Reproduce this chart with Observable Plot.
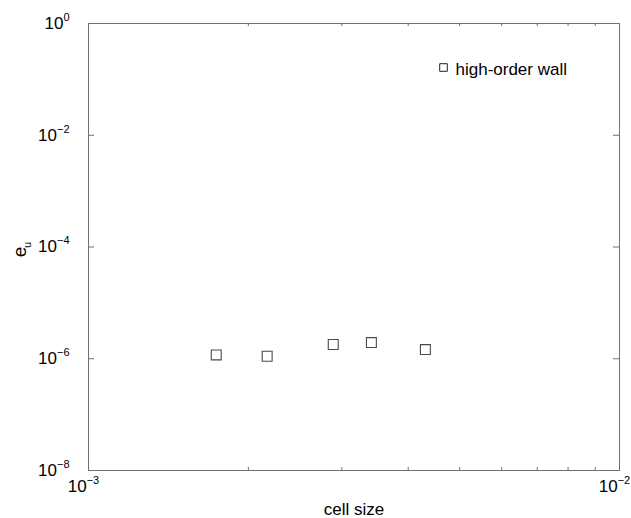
<!DOCTYPE html>
<html><head><meta charset="utf-8">
<script src="https://cdn.jsdelivr.net/npm/d3@7"></script>
<script src="https://cdn.jsdelivr.net/npm/@observablehq/plot@0.6"></script>
<style>
body{margin:0;background:#fff}
svg{font-family:"Liberation Sans",Arial,Helvetica,sans-serif}
g[aria-label="xlabel"] text, g[aria-label="legend-text"] text{letter-spacing:0.8px}
</style>
</head><body><div id="chart"></div>
<script>
const cellSize = [0.00174, 0.00217, 0.00289, 0.00341, 0.00431];
const errorU = [1.17e-6, 1.11e-6, 1.80e-6, 1.95e-6, 1.46e-6];
const seriesName = "high-order wall";
const xMajorTicks = [1e-3, 1e-2];
const xMinorTicks = [2e-3, 3e-3, 4e-3, 5e-3, 6e-3, 7e-3, 8e-3, 9e-3];
const yMajorTicks = [1e-8, 1e-6, 1e-4, 1e-2, 1e0];
const xLabel = "cell size";
const yLabelBase = "e";
const yLabelSub = "u";

const data = cellSize.map((x, i) => ({x, y: errorU[i]}));
const fmt = v => {
  const e = Math.round(Math.log10(v));
  return "10^" + (e < 0 ? "\u2212" + (-e) : String(e));
};
const axisColor = "#707070";

const chart = Plot.plot({
  width: 631, height: 518,
  marginLeft: 88, marginRight: 12, marginTop: 23, marginBottom: 48,
  style: {fontFamily: '"Liberation Sans",Arial,sans-serif', fontSize: "17px", color: "#000", background: "#fff"},
  x: {type: "log", domain: [1e-3, 1e-2]},
  y: {type: "log", domain: [1e-8, 1]},
  marks: [
    Plot.frame({stroke: axisColor}),
    Plot.tickX(xMinorTicks, {x: d => d, insetTop: 444, stroke: axisColor}),
    Plot.tickX(xMinorTicks, {x: d => d, insetBottom: 444, stroke: axisColor}),
    Plot.tickY(yMajorTicks, {y: d => d, insetRight: 525, stroke: axisColor}),
    Plot.tickY(yMajorTicks, {y: d => d, insetLeft: 525, stroke: axisColor}),
    Plot.axisX(xMajorTicks, {tickSize: 0, tickPadding: 9, tickFormat: fmt, dx: -5, fontSize: 17, label: null}),
    Plot.axisY(yMajorTicks, {tickSize: 0, tickPadding: 19, tickFormat: fmt, fontSize: 17, label: null}),
    Plot.dot(data, {x: "x", y: "y", symbol: "square", r: 5.6, stroke: "#4a4a4a", strokeWidth: 1.1, fill: "none"}),
    Plot.text([xLabel], {text: d => d, frameAnchor: "bottom", lineAnchor: "bottom", dy: 44, fontSize: 17, ariaLabel: "xlabel"}),
    Plot.text([yLabelBase], {text: d => d, frameAnchor: "left", lineAnchor: "bottom", textAnchor: "middle", rotate: -90, dx: -63, dy: 5, fontSize: 19}),
    Plot.text([yLabelSub], {text: d => d, frameAnchor: "left", lineAnchor: "bottom", textAnchor: "middle", rotate: -90, dx: -58, dy: -2, fontSize: 11}),
    Plot.dot([seriesName], {frameAnchor: "top-left", dx: 355, dy: 44, symbol: "square", r: 4.3, stroke: "#222", strokeWidth: 1, fill: "none"}),
    Plot.text([seriesName], {text: d => d, frameAnchor: "top-left", lineAnchor: "middle", dx: 367, dy: 46, textAnchor: "start", fontSize: 17, ariaLabel: "legend-text"})
  ]
});

d3.select(chart).selectAll('g[aria-label="x-axis tick label"] text, g[aria-label="y-axis tick label"] text').each(function () {
  const t = d3.select(this);
  const parts = t.text().split("^");
  t.text(null);
  t.append("tspan").text(parts[0]);
  t.append("tspan").attr("dy", -8).attr("font-size", 11).text(parts[1]);
});

document.getElementById("chart").appendChild(chart);
</script>
</body></html>
